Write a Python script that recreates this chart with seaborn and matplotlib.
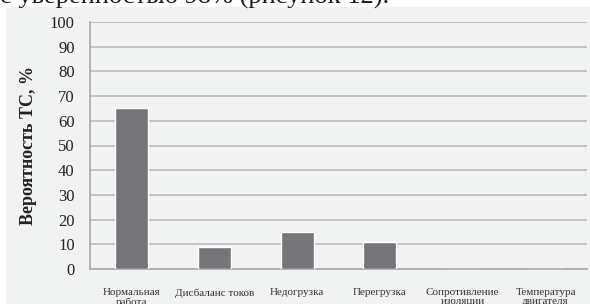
import matplotlib
matplotlib.use("Agg")
import matplotlib.pyplot as plt
import seaborn as sns
import pandas as pd
from matplotlib.patches import Rectangle

# data
categories = ["Нормальная\nработа", "Дисбаланс токов", "Недогрузка",
              "Перегрузка", "Сопротивление\nизоляции", "Температура\nдвигателя"]
values = [65, 9, 15, 11, 0, 0]
yticks = list(range(0, 101, 10))

df = pd.DataFrame({"cat": categories, "val": values})

sns.set_style("white")
plt.rcParams["font.family"] = ["Liberation Serif", "DejaVu Serif"]

fig = plt.figure(figsize=(5.9, 3.04), dpi=100, facecolor="white")
# grey chart background below the page text
fig.patches.append(Rectangle((6 / 590, 0), 1, 1 - 7 / 304, transform=fig.transFigure,
                             facecolor="#f1f2f2", edgecolor="none", zorder=-5))
fig.text(0.0, 1 - 4 / 304, "с уверенностью 98% (рисунок 12).", fontsize=19,
         va="baseline", ha="left", color="#1a1a1a")

ax = fig.add_axes([90 / 590, 1 - 269 / 304, 497 / 590, 247 / 304])
ax.set_facecolor("none")

sns.barplot(data=df, x="cat", y="val", color="#76767a", width=0.4,
            saturation=1, ax=ax, zorder=3)

ax.set_xlim(-0.5, 5.5)
ax.set_ylim(0, 100)
ax.set_yticks(yticks)
ax.yaxis.grid(True, color="#c0c0c0", linewidth=1.3, zorder=0)
ax.set_axisbelow(True)

for s in ["top", "right"]:
    ax.spines[s].set_visible(False)
for s in ["left", "bottom"]:
    ax.spines[s].set_color("#a8a8a8")
    ax.spines[s].set_linewidth(1.2)

ax.tick_params(axis="y", direction="out", length=6, color="#a8a8a8",
               labelsize=12, labelcolor="#222222", pad=5)
ax.tick_params(axis="x", which="major", length=0, labelsize=8,
               labelcolor="#333333", pad=14)
for lab in ax.get_xticklabels():
    lab.set_linespacing(1.0)
ax.set_xticks([i + 0.5 for i in range(-1, 6)], minor=True)
ax.tick_params(axis="x", which="minor", direction="out", length=3, color="#a8a8a8")

ax.set_xlabel("")
ax.set_ylabel("Вероятность ТС, %", fontsize=13, fontweight="bold", color="#222222",
              labelpad=9)

fig.savefig("out.png", dpi=100, facecolor="white")
print("saved out.png")
